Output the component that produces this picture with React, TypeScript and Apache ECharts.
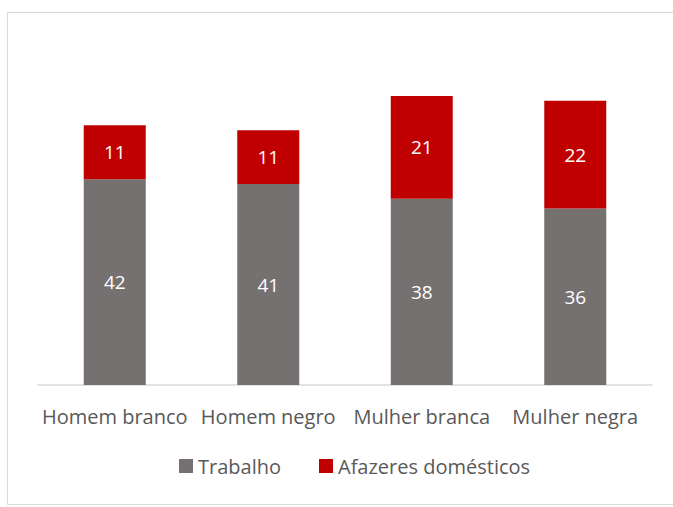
import React, { useEffect, useRef } from "react";
import * as echarts from "echarts";

const categories = ["Homem branco", "Homem negro", "Mulher branca", "Mulher negra"];
const trabalho = [42, 41, 38, 36];
const afazeres = [11, 11, 21, 22];
const seriesNames = ["Trabalho", "Afazeres domésticos"];

export default function App() {
  const ref = useRef<HTMLDivElement>(null);
  useEffect(() => {
    document.body.style.margin = "0";
    const chart = echarts.init(ref.current!, null, { renderer: "svg" });
    const font = "'Open Sans', sans-serif";
    chart.setOption({
      animation: false,
      backgroundColor: "#ffffff",
      textStyle: { fontFamily: font },
      graphic: [
        {
          type: "rect",
          shape: { x: 7.5, y: 12.5, width: 700, height: 492 },
          style: { fill: "none", stroke: "#d9d9d9", lineWidth: 1 },
          silent: true,
        },
      ],
      grid: { left: 38, right: 21, top: 91, bottom: 122, containLabel: false },
      legend: {
        bottom: 26,
        left: 174,
        itemWidth: 14,
        itemHeight: 14,
        itemGap: 38,
        icon: "rect",
        textStyle: { color: "#595959", fontSize: 20, fontFamily: font },
        data: seriesNames,
      },
      xAxis: {
        type: "category",
        data: categories,
        axisLine: { show: true, lineStyle: { color: "#d9d9d9", width: 1.5 } },
        axisTick: { show: false },
        axisLabel: { color: "#595959", fontSize: 20, margin: 21, interval: 0, fontFamily: font },
      },
      yAxis: {
        type: "value",
        min: 0,
        max: 60,
        show: false,
        splitLine: { show: false },
      },
      series: [
        {
          name: seriesNames[0],
          type: "bar",
          stack: "total",
          data: trabalho,
          barWidth: 62,
          itemStyle: { color: "#767171" },
          label: { show: true, position: "inside", color: "#ffffff", fontSize: 19, fontFamily: font },
        },
        {
          name: seriesNames[1],
          type: "bar",
          stack: "total",
          data: afazeres,
          barWidth: 62,
          itemStyle: { color: "#c00000" },
          label: { show: true, position: "inside", color: "#ffffff", fontSize: 19, fontFamily: font },
        },
      ],
    });
    return () => chart.dispose();
  }, []);
  return (
    <div
      ref={ref}
      style={{ width: 673, height: 507, position: "absolute", left: 0, top: 0 }}
    />
  );
}
